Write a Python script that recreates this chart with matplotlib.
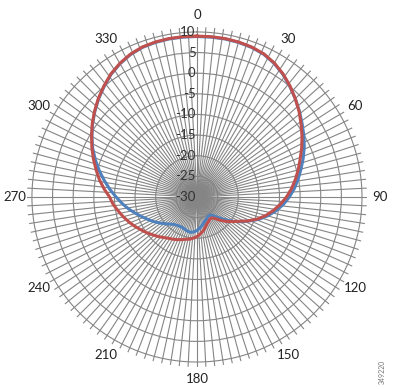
import numpy as np
import matplotlib.pyplot as plt
from matplotlib.transforms import offset_copy

# antenna pattern, gain in dB, every 5 degrees
angles = np.arange(0, 360, 5)

red_db = [9.0, 9.0, 9.0, 8.9, 8.7, 8.3, 7.5, 6.4, 5.1, 3.7, 2.3, 0.8,
          -0.6, -2.0, -3.4, -4.6, -5.8, -7.0, -8.3, -9.7, -11.2, -12.7, -14.4, -16.3,
          -18.2, -19.6, -20.8, -22.0, -23.2, -23.8, -23.8, -23.4, -23.0, -22.3, -21.6, -21.0,
          -20.4, -20.0, -19.6, -19.4, -19.0, -18.6, -18.2, -17.8, -17.2, -16.5, -15.8, -15.0,
          -14.2, -13.3, -12.4, -11.5, -10.6, -9.6, -8.8, -7.4, -6.0, -4.7, -3.3, -1.9,
          -0.5, 1.0, 2.4, 3.8, 5.1, 6.4, 7.4, 8.2, 8.7, 8.9, 9.0, 9.0]

blue_db = [8.9, 8.9, 8.9, 8.8, 8.6, 8.2, 7.4, 6.3, 5.0, 3.7, 2.4, 1.1,
           -0.1, -1.3, -2.6, -3.9, -5.1, -6.3, -7.6, -9.0, -10.6, -12.3, -14.1, -16.2,
           -18.0, -19.8, -21.6, -23.1, -24.2, -24.6, -24.6, -24.3, -24.0, -23.6, -23.0, -22.4,
           -21.9, -21.5, -21.3, -21.4, -21.6, -21.8, -21.8, -21.6, -21.3, -20.7, -19.9, -19.0,
           -18.0, -17.0, -15.9, -14.6, -13.2, -11.8, -10.4, -8.8, -7.2, -5.5, -3.8, -2.1,
           -0.6, 0.9, 2.3, 3.7, 5.0, 6.3, 7.3, 8.1, 8.6, 8.8, 8.9, 8.9]

angle_labels = [0, 30, 60, 90, 120, 150, 180, 210, 240, 270, 300, 330]
r_ticks = [-30, -25, -20, -15, -10, -5, 0, 5, 10]

plt.rcParams['font.family'] = ['Lato', 'DejaVu Sans']

fig = plt.figure(figsize=(3.93, 3.89), dpi=100)
ax = fig.add_axes([0.0687, 0.0566, 0.865, 0.874], projection='polar')
ax.set_theta_zero_location('N')
ax.set_theta_direction(-1)

th = np.deg2rad(np.append(angles, 360))
ax.plot(th, blue_db + blue_db[:1], color='#4F81BD', lw=2.2, zorder=3)
ax.plot(th, red_db + red_db[:1], color='#C0504D', lw=2.2, zorder=4)

ax.set_ylim(-30, 11.2)
ax.set_yticks(r_ticks)
ax.set_yticklabels([])

spokes = np.arange(0, 360, 3)
ax.set_xticks(np.deg2rad(spokes))
ax.set_xticklabels([str(s) if s in angle_labels else '' for s in spokes],
                   fontsize=9.5, color='#222222')
ax.tick_params(axis='x', pad=2, length=0)
ax.grid(True, color='#858585', lw=0.8)
ax.spines['polar'].set_visible(False)

tr = offset_copy(ax.transData, fig=fig, x=-1, y=0, units='points')
for r in r_ticks:
    ax.text(0, r, str(r), transform=tr, ha='right', va='center',
            fontsize=9.5, color='#333333', zorder=5)

fig.text(0.972, 0.045, '349220', rotation=90, fontsize=5, color='#777777',
         ha='center', va='center')

fig.savefig('out.png', dpi=100)
